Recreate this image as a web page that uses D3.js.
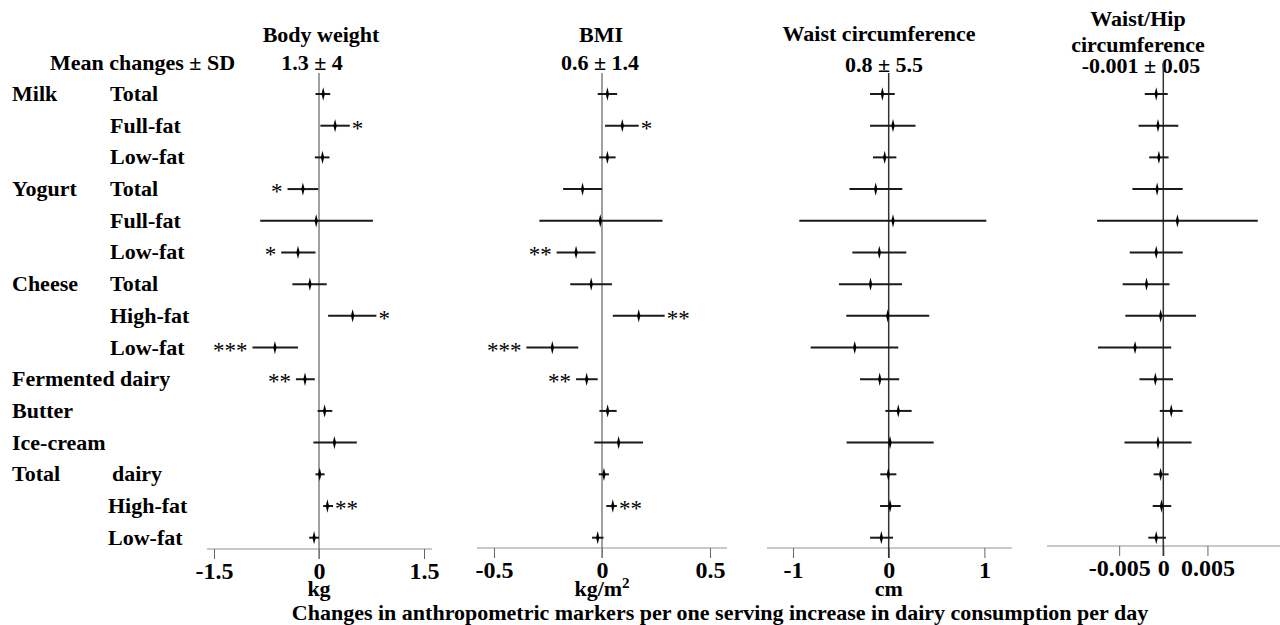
<!DOCTYPE html>
<html>
<head>
<meta charset="utf-8">
<script src="https://cdn.jsdelivr.net/npm/d3@7"></script>
<style>
  body { margin: 0; background: #fff; }
  svg { display: block; font-family: "Liberation Serif", "Times New Roman", serif; font-weight: bold; }
</style>
</head>
<body>
<div id="chart"></div>
<script>
'use strict';

// row labels (group on the left, sub item next to it)
const rowGroups = ['Milk', '', '', 'Yogurt', '', '', 'Cheese', '', '', 'Fermented dairy', 'Butter', 'Ice-cream', 'Total', '', ''];
const rowItems = ['Total', 'Full-fat', 'Low-fat', 'Total', 'Full-fat', 'Low-fat', 'Total', 'High-fat', 'Low-fat', '', '', '', 'dairy', 'High-fat', 'Low-fat'];

// body weight, kg
const weightEst = [0.06, 0.23, 0.05, -0.23, -0.04, -0.30, -0.13, 0.48, -0.63, -0.20, 0.08, 0.22, 0.01, 0.12, -0.07];
const weightLo = [-0.05, 0.02, -0.06, -0.45, -0.84, -0.54, -0.38, 0.13, -0.95, -0.33, -0.02, -0.08, -0.05, 0.06, -0.14];
const weightHi = [0.16, 0.44, 0.15, -0.01, 0.77, -0.05, 0.11, 0.82, -0.30, -0.06, 0.19, 0.54, 0.08, 0.20, 0.00];
const weightSig = ['', '*', '', '*', '', '*', '', '*', '***', '**', '', '', '', '**', ''];

// BMI, kg/m2
const bmiEst = [0.025, 0.094, 0.025, -0.09, -0.008, -0.12, -0.05, 0.17, -0.23, -0.071, 0.026, 0.077, 0.009, 0.05, -0.02];
const bmiLo = [-0.02, 0.014, -0.013, -0.18, -0.29, -0.21, -0.147, 0.05, -0.35, -0.12, -0.012, -0.036, -0.015, 0.02, -0.046];
const bmiHi = [0.07, 0.17, 0.063, 0.0, 0.28, -0.03, 0.046, 0.29, -0.11, -0.02, 0.068, 0.19, 0.032, 0.069, 0.007];
const bmiSig = ['', '*', '', '', '', '**', '', '**', '***', '**', '', '', '', '**', ''];

// waist circumference, cm
const waistEst = [-0.066, 0.045, -0.042, -0.136, 0.045, -0.098, -0.19, -0.01, -0.355, -0.094, 0.10, 0.014, -0.004, 0.014, -0.077];
const waistLo = [-0.195, -0.195, -0.164, -0.41, -0.934, -0.38, -0.52, -0.443, -0.815, -0.30, -0.035, -0.44, -0.088, -0.09, -0.195];
const waistHi = [0.063, 0.28, 0.08, 0.142, 1.02, 0.184, 0.139, 0.424, 0.10, 0.11, 0.24, 0.47, 0.08, 0.125, 0.045];

// waist/hip ratio
const whrEst = [-0.0008, -0.0006, -0.0005, -0.0007, 0.0016, -0.0008, -0.0019, -0.0003, -0.0032, -0.0009, 0.0009, -0.0006, -0.0003, -0.0002, -0.0008];
const whrLo = [-0.0021, -0.0028, -0.0016, -0.0035, -0.0075, -0.0038, -0.0046, -0.0043, -0.0074, -0.0027, -0.0004, -0.0044, -0.0011, -0.0012, -0.0017];
const whrHi = [0.0005, 0.0017, 0.0006, 0.0022, 0.0107, 0.0022, 0.0007, 0.0037, 0.0009, 0.0011, 0.0022, 0.0032, 0.0006, 0.0009, 0.0003];
const noSig = weightSig.map(() => '');

const weightTicks = [-1.5, 0, 1.5];
const bmiTicks = [-0.5, 0, 0.5];
const waistTicks = [-1, 0, 1];
const whrTicks = [-0.005, 0, 0.005];

const titles = [['Body weight'], ['BMI'], ['Waist circumference'], ['Waist/Hip', 'circumference']];
const meanSD = ['1.3 \u00b1 4', '0.6 \u00b1 1.4', '0.8 \u00b1 5.5', '-0.001 \u00b1 0.05'];
const units = ['kg', 'kg/m', 'cm', ''];

const width = 1280, height = 625;

const svg = d3.select('#chart').append('svg')
    .attr('width', width)
    .attr('height', height);

// panel layout
const panels = [
    { est: weightEst, lo: weightLo, hi: weightHi, sig: weightSig, ticks: weightTicks, domain: [-1.5, 1.5], range: [214, 424],
      axis: [207, 432], axisY: 549, top: 73, zeroColor: '#808080', titleX: 321, titleY: [42], meanX: 312, meanY: 70 },
    { est: bmiEst, lo: bmiLo, hi: bmiHi, sig: bmiSig, ticks: bmiTicks, domain: [-0.5, 0.5], range: [494, 710],
      axis: [477, 727], axisY: 548, top: 73, zeroColor: '#808080', titleX: 601, titleY: [42], meanX: 600, meanY: 70 },
    { est: waistEst, lo: waistLo, hi: waistHi, sig: noSig, ticks: waistTicks, domain: [-1, 1], range: [793, 984.4],
      axis: [767, 1012], axisY: 548, top: 73, zeroColor: '#333', titleX: 879, titleY: [41], meanX: 884, meanY: 72 },
    { est: whrEst, lo: whrLo, hi: whrHi, sig: noSig, ticks: whrTicks, domain: [-0.005, 0.005], range: [1119.15, 1207.45],
      axis: [1047, 1280], axisY: 546, top: 63, zeroColor: '#333', titleX: 1138, titleY: [26, 52], meanX: 1141, meanY: 73 }
];

const y = d3.scalePoint()
    .domain(d3.range(rowItems.length))
    .range([94, 537.7]);

const fontSize = 22;

// left labels
svg.append('text')
    .attr('x', 50).attr('y', 70)
    .attr('font-size', fontSize)
    .text('Mean changes \u00b1 SD');

svg.selectAll('.group-label')
    .data(rowGroups)
    .enter()
        .append('text')
        .attr('class', 'group-label')
        .attr('x', 12)
        .attr('y', (d, i) => y(i) + 7)
        .attr('font-size', fontSize)
        .text(d => d);

svg.selectAll('.item-label')
    .data(rowItems)
    .enter()
        .append('text')
        .attr('class', 'item-label')
        .attr('x', (d, i) => i >= 12 ? (i === 12 ? 112 : 108) : 110)
        .attr('y', (d, i) => y(i) + 7)
        .attr('font-size', fontSize)
        .text(d => d);

const diamond = d3.symbol().type(d3.symbolDiamond).size(26);

panels.forEach((p, k) => {

    const x = d3.scaleLinear().domain(p.domain).range(p.range);
    const g = svg.append('g').attr('class', 'panel-' + k);

    // titles
    titles[k].forEach((t, j) => {
        g.append('text')
            .attr('x', p.titleX).attr('y', p.titleY[j])
            .attr('text-anchor', 'middle')
            .attr('font-size', fontSize)
            .text(t);
    });
    g.append('text')
        .attr('x', p.meanX).attr('y', p.meanY)
        .attr('text-anchor', 'middle')
        .attr('font-size', fontSize)
        .text(meanSD[k]);

    // horizontal axis line
    g.append('line')
        .attr('x1', p.axis[0]).attr('x2', p.axis[1])
        .attr('y1', p.axisY).attr('y2', p.axisY)
        .attr('stroke', '#c8c8c8')
        .attr('stroke-width', 2);

    const axis = g.append('g')
        .attr('transform', 'translate(0,' + p.axisY + ')')
        .call(d3.axisBottom(x)
            .tickValues(p.ticks)
            .tickSize(10)
            .tickSizeOuter(0)
            .tickPadding(3)
            .tickFormat(d => String(d)));
    axis.select('.domain').remove();
    axis.selectAll('.tick line').attr('stroke', '#666');
    axis.selectAll('.tick text')
        .attr('fill', '#000')
        .style('font-family', '"Liberation Serif", "Times New Roman", serif')
        .style('font-weight', 'bold')
        .style('font-size', '24px');

    // zero reference line
    g.append('line')
        .attr('x1', x(0)).attr('x2', x(0))
        .attr('y1', p.top).attr('y2', p.axisY + 10)
        .attr('stroke', p.zeroColor)
        .attr('stroke-width', 1.5);

    // confidence intervals
    g.selectAll('.ci')
        .data(p.est)
        .enter()
            .append('line')
            .attr('class', 'ci')
            .attr('x1', (d, i) => x(p.lo[i]))
            .attr('x2', (d, i) => x(p.hi[i]))
            .attr('y1', (d, i) => y(i))
            .attr('y2', (d, i) => y(i))
            .attr('stroke', '#1a1a1a')
            .attr('stroke-width', 2);

    // point estimates
    g.selectAll('.pt')
        .data(p.est)
        .enter()
            .append('path')
            .attr('class', 'pt')
            .attr('d', diamond)
            .attr('transform', (d, i) => 'translate(' + x(d) + ',' + y(i) + ') scale(0.6,1.4)')
            .attr('fill', '#000');

    // significance stars
    g.selectAll('.sig')
        .data(p.sig)
        .enter()
            .append('text')
            .attr('class', 'sig')
            .attr('x', (d, i) => p.est[i] >= 0 ? x(p.hi[i]) + 2 : x(p.lo[i]) - 5)
            .attr('y', (d, i) => y(i) + 10)
            .attr('text-anchor', (d, i) => p.est[i] >= 0 ? 'start' : 'end')
            .attr('font-size', 23)
            .attr('font-weight', 'normal')
            .text(d => d);

    // unit label
    if (units[k]) {
        const u = g.append('text')
            .attr('x', x(0)).attr('y', 596)
            .attr('text-anchor', 'middle')
            .attr('font-size', fontSize)
            .text(units[k]);
        if (k === 1) {
            u.append('tspan')
                .attr('dy', -8)
                .attr('font-size', 15)
                .text('2');
        }
    }
});

svg.append('text')
    .attr('x', 720).attr('y', 620)
    .attr('text-anchor', 'middle')
    .attr('font-size', 22)
    .text('Changes in anthropometric markers per one serving increase in dairy consumption per day');
</script>
</body>
</html>
